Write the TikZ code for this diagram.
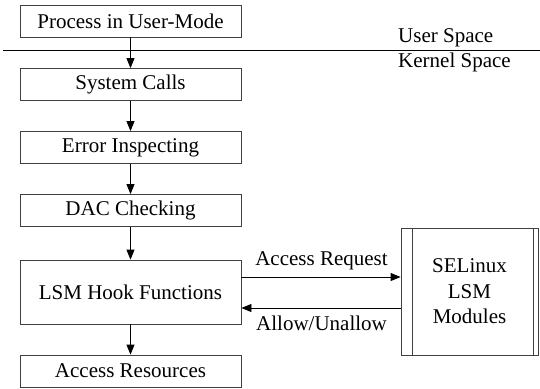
\documentclass[tikz,border=0pt]{standalone}
\usepackage{fontspec}
\setmainfont{Liberation Serif}
\usetikzlibrary{arrows.meta}
\begin{document}
\begin{tikzpicture}[x=1pt,y=-1pt,
  every node/.style={font=\fontsize{21}{24}\selectfont, inner sep=0pt},
  stepbox/.style={draw=black!75, line width=0.8pt, minimum width=221pt, minimum height=32pt},
  flow/.style={draw=black, line width=0.8pt, -{Triangle[length=10pt,width=8pt]}}]
\useasboundingbox (0,0) rectangle (540,388);

% boundary between user and kernel space
\draw[line width=0.8pt] (3,50) -- (540,50);
\node[anchor=base west] (us) at (398,42) {User Space};
\node[anchor=base west] (ks) at (398,67) {Kernel Space};

% main call path
\node[stepbox] (proc) at (130.5,21) {Process in User-Mode};
\node[stepbox] (sys) at (130.5,84.5) {System Calls};
\node[stepbox] (err) at (130.5,147.5) {Error Inspecting};
\node[stepbox] (dac) at (130.5,210.5) {DAC Checking};
\node[stepbox, minimum height=64pt] (lsm) at (130.5,292) {LSM Hook Functions};
\node[stepbox] (res) at (130.5,371) {Access Resources};

\draw[flow] (proc) -- (sys);
\draw[flow] (sys) -- (err);
\draw[flow] (err) -- (dac);
\draw[flow] (dac) -- (lsm);
\draw[flow] (lsm) -- (res);

% SELinux module box with double side bars
\node[stepbox, minimum width=137pt, minimum height=127pt, align=center] (se) at (469.5,291.5)
  {SELinux\\[1.5pt]LSM\\[1.5pt]Modules};
\draw[draw=black!75, line width=0.8pt] ([xshift=12pt]se.north west) -- ([xshift=12pt]se.south west);
\draw[draw=black!75, line width=0.8pt] ([xshift=-5pt]se.north east) -- ([xshift=-5pt]se.south east);

% request and response between hook and module
\coordinate (reqA) at (lsm.east |- 0,277);
\coordinate (reqB) at (se.west |- 0,277);
\coordinate (ansA) at (se.west |- 0,308);
\coordinate (ansB) at (lsm.east |- 0,308);
\draw[flow] (reqA) -- (reqB);
\draw[flow] (ansA) -- (ansB);
\node[anchor=base] (reqlbl) at (321.5,265) {Access Request};
\node[anchor=base] (anslbl) at (321.5,330) {Allow/Unallow};
\end{tikzpicture}
\end{document}
